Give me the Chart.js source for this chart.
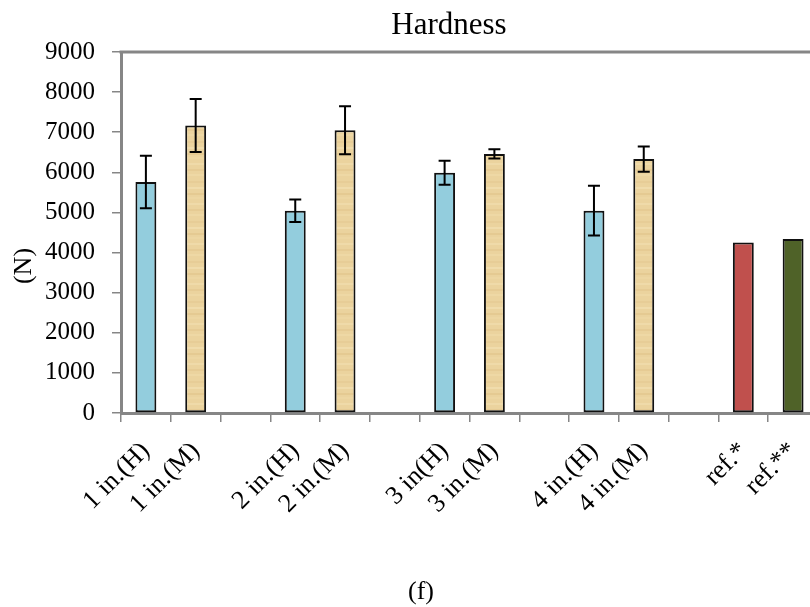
<!DOCTYPE html>
<html>
<head>
<meta charset="utf-8">
<script src="https://cdn.jsdelivr.net/npm/chart.js@4"></script>
<style>
  body { margin: 0; background: #fff; overflow: hidden; }
  canvas { display: block; }
</style>
</head>
<body>
<canvas id="hardnessChart" width="820" height="607"></canvas>
<script>
// data (empty slots are gaps between groups)
const categories = ['1 in.(H)', '1 in.(M)', '', '2 in.(H)', '2 in.(M)', '', '3 in(H)', '3 in.(M)', '', '4 in.(H)', '4 in.(M)', '', 'ref.*', 'ref.**'];
const hardness = [5760, 7170, null, 5040, 7050, null, 5990, 6460, null, 5045, 6330, null, 4250, 4340];
const hardnessErr = [655, 660, null, 280, 600, null, 300, 115, null, 620, 315, null, null, null];
const kinds = ['H', 'M', '', 'H', 'M', '', 'H', 'M', '', 'H', 'M', '', 'ref1', 'ref2'];

const serif = "'Liberation Serif', 'Times New Roman', serif";
const axisGray = '#868686';

// tan paper-like fill for the (M) bars
function makeTan() {
    const c = document.createElement('canvas');
    c.width = 24; c.height = 40;
    const g = c.getContext('2d');
    g.fillStyle = '#EBD39E';
    g.fillRect(0, 0, 24, 40);
    const rows = [[3, '#EFDAA9'], [9, '#E6CB94'], [14, '#EED8A5'], [21, '#E7CD97'], [27, '#F0DCAC'], [33, '#E5CA92'], [37, '#EDD6A2']];
    rows.forEach(r => {
        g.fillStyle = r[1];
        g.fillRect(0, r[0], 24, 2);
    });
    return g.createPattern(c, 'repeat');
}
const tan = makeTan();
const fillFor = { H: '#93CDDD', M: tan, ref1: '#C0504D', ref2: '#4F6228', '': '#fff' };

const errorBars = {
    id: 'errorBars',
    afterDatasetsDraw(chart) {
        const ctx = chart.ctx;
        const y = chart.scales.y;
        const meta = chart.getDatasetMeta(0);
        ctx.save();
        ctx.strokeStyle = '#000';
        ctx.lineWidth = 2;
        hardnessErr.forEach((e, i) => {
            if (e == null || hardness[i] == null) return;
            const x = meta.data[i].x;
            const top = y.getPixelForValue(hardness[i] + e);
            const bot = y.getPixelForValue(hardness[i] - e);
            ctx.beginPath();
            ctx.moveTo(x, top); ctx.lineTo(x, bot);
            ctx.moveTo(x - 6, top); ctx.lineTo(x + 6, top);
            ctx.moveTo(x - 6, bot); ctx.lineTo(x + 6, bot);
            ctx.stroke();
        });
        ctx.restore();
    }
};

// top frame line plus the title, axis title and caption
const frameAndText = {
    id: 'frameAndText',
    afterDraw(chart) {
        const a = chart.chartArea;
        const ctx = chart.ctx;
        ctx.save();
        ctx.strokeStyle = axisGray;
        ctx.lineWidth = 3;
        ctx.beginPath();
        ctx.moveTo(a.left - 1.5, a.top);
        ctx.lineTo(a.right + 10, a.top);
        ctx.stroke();

        ctx.fillStyle = '#000';
        ctx.textAlign = 'center';
        ctx.textBaseline = 'middle';
        ctx.font = '31px ' + serif;
        ctx.fillText('Hardness', 449, 26);
        ctx.font = '26px ' + serif;
        ctx.fillText('(f)', 421, 592);

        ctx.translate(24, 266);
        ctx.rotate(-Math.PI / 2);
        ctx.fillText('(N)', 0, 0);
        ctx.restore();
    }
};

new Chart(document.getElementById('hardnessChart'), {
    type: 'bar',
    data: {
        labels: categories,
        datasets: [{
            data: hardness,
            backgroundColor: kinds.map(k => fillFor[k]),
            borderColor: '#111',
            borderWidth: 2,
            borderSkipped: false,
            categoryPercentage: 1,
            barPercentage: 0.42
        }]
    },
    options: {
        responsive: false,
        animation: false,
        layout: { padding: { left: 0, right: 2, top: 52, bottom: 0 } },
        plugins: {
            legend: { display: false },
            tooltip: { enabled: false }
        },
        scales: {
            x: {
                offset: true,
                border: { color: axisGray, width: 3 },
                grid: { display: true, drawOnChartArea: false, offset: true, color: axisGray, tickLength: 9, lineWidth: 1.5 },
                ticks: {
                    autoSkip: false,
                    maxRotation: 45,
                    minRotation: 45,
                    color: '#000',
                    padding: 14,
                    font: { family: serif, size: 26 }
                },
                afterFit(scale) {
                    scale.height = 194;
                    scale.paddingLeft = 0;
                    scale.paddingRight = 0;
                }
            },
            y: {
                min: 0,
                max: 9000,
                border: { color: axisGray, width: 3 },
                grid: { drawOnChartArea: false, color: axisGray, tickLength: 9, lineWidth: 1.5 },
                ticks: {
                    stepSize: 1000,
                    color: '#000',
                    padding: 17,
                    font: { family: serif, size: 25 },
                    callback: v => String(v)
                },
                afterFit(scale) { scale.width = 121; }
            }
        }
    },
    plugins: [errorBars, frameAndText]
});
</script>
</body>
</html>
